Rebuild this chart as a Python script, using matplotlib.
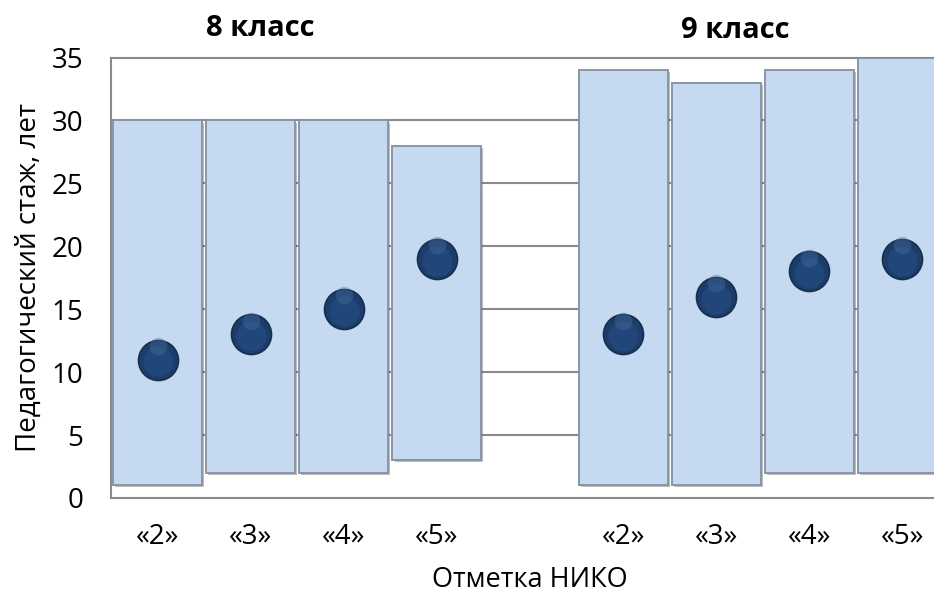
import matplotlib
matplotlib.use("Agg")
import matplotlib.pyplot as plt
import matplotlib.patheffects as pe
import numpy as np

plt.rcParams['font.family'] = ['Open Sans', 'DejaVu Sans']

# Teaching experience (years) by NIKO mark, grades 8 and 9
marks = ["«2»", "«3»", "«4»", "«5»"]
grade8_min = [1, 2, 2, 3]
grade8_max = [30, 30, 30, 28]
grade8_mean = [11, 13, 15, 19]
grade9_min = [1, 1, 2, 2]
grade9_max = [34, 33, 34, 35]
grade9_mean = [13, 16, 18, 19]
group_titles = ["8 класс", "9 класс"]
y_ticks = [0, 5, 10, 15, 20, 25, 30, 35]

# positions: four marks, an empty slot, four marks
pos8 = np.arange(4)
pos9 = np.arange(5, 9)
positions = np.concatenate([pos8, pos9])
lows = np.array(grade8_min + grade9_min)
highs = np.array(grade8_max + grade9_max)
means = np.array(grade8_mean + grade9_mean)
labels = marks + marks

fig = plt.figure(figsize=(9.34, 5.95), dpi=100)
ax = fig.add_axes([111 / 934, 1 - 498 / 595, (949 - 111) / 934, (498 - 57.5) / 595])

grid_col = "#8a8a8a"
for y in y_ticks[1:-1]:
    ax.axhline(y, color=grid_col, lw=1.5, zorder=1)

bars = ax.bar(positions, highs - lows, bottom=lows, width=0.955,
              color="#c5d9f1", edgecolor="#8a95a5", linewidth=1.4, zorder=2)
for b in bars:
    b.set_path_effects([pe.SimplePatchShadow(offset=(1.5, -1.5), alpha=0.35),
                        pe.Normal()])

# shaded spheres for the mean values
ax.scatter(positions, means, s=900, color="#15304f", zorder=4, linewidths=0)
ax.scatter(positions, means, s=760, color="#1c3d69", zorder=5, linewidths=0)
ax.scatter(positions, means - 0.15, s=470, color="#22487c", zorder=6, linewidths=0, alpha=0.85)
ax.scatter(positions, means + 1.1, s=160, color="#4d73a4", zorder=7, linewidths=0, alpha=0.35)

ax.set_xlim(-0.5, 8.5)
ax.set_ylim(0, 35)
ax.set_yticks(y_ticks)
ax.set_xticks(positions)
ax.set_xticklabels(labels, fontsize=20)
ax.tick_params(axis='y', labelsize=20, length=0, pad=20)
ax.tick_params(axis='x', length=0, pad=18)
for side in ["left", "bottom", "top"]:
    ax.spines[side].set_color(grid_col)
    ax.spines[side].set_linewidth(1.5)
ax.spines["right"].set_visible(False)
ax.spines["top"].set_zorder(0.5)

ax.set_ylabel("Педагогический стаж, лет", fontsize=20, labelpad=6)
ax.set_xlabel("Отметка НИКО", fontsize=19.5, labelpad=11)

fig.text(260 / 934, 1 - 28 / 595, group_titles[0], fontsize=21, fontweight="bold",
         ha="center", va="center")
fig.text(735 / 934, 1 - 30 / 595, group_titles[1], fontsize=21, fontweight="bold",
         ha="center", va="center")

fig.savefig("out.png", dpi=100)
